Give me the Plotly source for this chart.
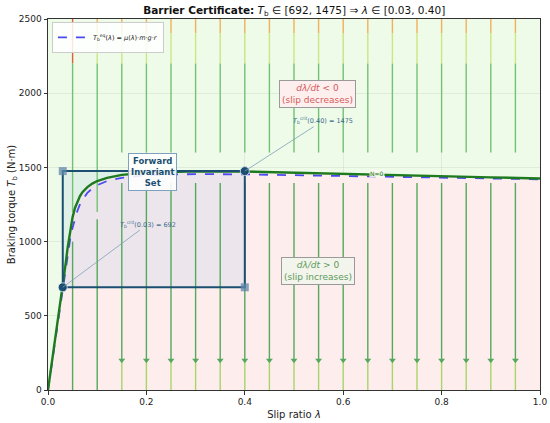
import plotly.graph_objects as go

# values
lam = [0, 0.01, 0.02, 0.03, 0.035, 0.04, 0.045, 0.05, 0.055, 0.06, 0.065, 0.07,
       0.08, 0.09, 0.10, 0.12, 0.15, 0.20, 0.25, 0.30, 0.40, 0.50, 0.60, 0.70,
       0.80, 0.90, 1.0]
T_crit = [0, 230, 460, 692, 830, 960, 1075, 1165, 1228, 1273, 1307, 1333,
          1367, 1391, 1408, 1430, 1450, 1464, 1470, 1473, 1472, 1465, 1457, 1449,
          1441, 1433, 1425]
T_eq = [0, 225, 450, 680, 805, 915, 1015, 1095, 1160, 1210, 1250, 1282,
        1328, 1358, 1380, 1408, 1430, 1447, 1452, 1455, 1453, 1448, 1443, 1437,
        1431, 1426, 1420]

# barrier box
lam_lo, lam_hi = 0.03, 0.40
T_lo, T_hi = 692, 1475

# streamlines (vertical) of the phase portrait
stream_x = [0.05, 0.10, 0.15, 0.20, 0.25, 0.30, 0.35, 0.40, 0.45, 0.50,
            0.55, 0.60, 0.65, 0.70, 0.75, 0.80, 0.85, 0.90, 0.95]
upper_end = [1200, 1200, 1600, 1600, 1600, 1600, 1600, 1600, 1600, 1600,
             1600, 1600, 1600, 1600, 1600, 1600, 1600, 1600, 1600]
lower_start = [1000, 1150, 1395, 1395, 1395, 1395, 1395, 1395, 1395, 1395,
               1395, 1395, 1395, 1395, 1395, 1395, 1395, 1395, 1395]
has_arrow = [False, False] + [True] * 17
T_top, T_orange, T_yellow, T_arrow = 2500, 2405, 2200, 200

fig = go.Figure()

# region below the N=0 curve (slip increases)
fig.add_trace(go.Scatter(x=lam, y=T_crit, mode="lines", fill="tozeroy",
                         fillcolor="#fdeeed", line=dict(width=0),
                         showlegend=False, hoverinfo="skip"))

# forward invariant set fill
fig.add_trace(go.Scatter(x=[lam_lo, lam_hi, lam_hi, lam_lo, lam_lo],
                         y=[T_lo, T_lo, T_hi, T_hi, T_lo],
                         mode="lines", fill="toself",
                         fillcolor="rgba(150,190,230,0.16)",
                         line=dict(width=0), showlegend=False, hoverinfo="skip"))


def seg(xs, y0s, y1s):
    x, y = [], []
    for a, b, c in zip(xs, y0s, y1s):
        x += [a, a, None]
        y += [b, c, None]
    return x, y


def add_seg(xs, y0s, y1s, color):
    x, y = seg(xs, y0s, y1s)
    fig.add_trace(go.Scatter(x=x, y=y, mode="lines",
                             line=dict(color=color, width=1.4),
                             showlegend=False, hoverinfo="skip"))


n = len(stream_x)
# upper streamlines
add_seg(stream_x[:1], [T_top], [T_yellow], "#e0603a")
add_seg(stream_x[1:], [T_top] * (n - 1), [T_orange] * (n - 1), "#f2b05a")
add_seg(stream_x[1:], [T_orange] * (n - 1), [T_yellow] * (n - 1), "#cbe683")
add_seg(stream_x, [T_yellow] * n, upper_end, "#74c176")

# lower streamlines
lo_end = [T_arrow if a else 0 for a in has_arrow]
add_seg(stream_x, lower_start, lo_end, "#55a85c")
arr_x = [x for x, a in zip(stream_x, has_arrow) if a]
add_seg(arr_x, [T_arrow] * len(arr_x), [0] * len(arr_x), "#a8d46a")
fig.add_trace(go.Scatter(x=arr_x, y=[T_arrow] * len(arr_x), mode="markers",
                         marker=dict(symbol="triangle-down", size=6, color="#55a85c"),
                         showlegend=False, hoverinfo="skip"))

# equilibrium torque
fig.add_trace(go.Scatter(x=lam, y=T_eq, mode="lines",
                         line=dict(color="#4a4af0", width=1.8, dash="dash"),
                         name="<i>T</i><sub>b</sub><sup>eq</sup>(<i>λ</i>) = <i>μ</i>(<i>λ</i>)·<i>m</i>·<i>g</i>·<i>r</i>"))

# N = 0 contour
fig.add_trace(go.Scatter(x=lam, y=T_crit, mode="lines",
                         line=dict(color="#1e7a1e", width=2.4),
                         showlegend=False, hoverinfo="skip"))

# box border
fig.add_trace(go.Scatter(x=[lam_lo, lam_hi, lam_hi, lam_lo, lam_lo],
                         y=[T_lo, T_lo, T_hi, T_hi, T_lo], mode="lines",
                         line=dict(color="#1b4f72", width=2),
                         showlegend=False, hoverinfo="skip"))
fig.add_trace(go.Scatter(x=[lam_lo, lam_hi], y=[T_hi, T_lo], mode="markers",
                         marker=dict(symbol="square", size=8, color="rgba(95,135,170,0.75)"),
                         showlegend=False, hoverinfo="skip"))
fig.add_trace(go.Scatter(x=[lam_lo, lam_hi], y=[T_lo, T_hi], mode="markers",
                         marker=dict(symbol="circle", size=9, color="#1b4f72",
                                     line=dict(color="#dfe8f0", width=0.8)),
                         showlegend=False, hoverinfo="skip"))

F = "DejaVu Sans"
annots = [
    dict(x=0.213, y=1469, text="<b>Forward<br>Invariant<br>Set</b>", showarrow=False,
         font=dict(family=F, size=8.5, color="#1b4f72"), bgcolor="rgba(255,255,255,0.88)",
         bordercolor="#7fa0bf", borderwidth=1, borderpad=2),
    dict(x=lam_lo, y=T_lo, ax=0.203, ay=1118, axref="x", ayref="y",
         text="<i>T</i><sub>b</sub><sup>crit</sup>(0.03) = 692", showarrow=True,
         arrowhead=0, arrowwidth=0.8, arrowcolor="#7f9fb8",
         font=dict(family=F, size=6.5, color="#3f6a8e")),
    dict(x=lam_hi, y=T_hi, ax=0.559, ay=1815, axref="x", ayref="y",
         text="<i>T</i><sub>b</sub><sup>crit</sup>(0.40) = 1475", showarrow=True,
         arrowhead=0, arrowwidth=0.8, arrowcolor="#7f9fb8",
         font=dict(family=F, size=6.5, color="#3f6a8e")),
    dict(x=0.548, y=1995, text="<i>dλ/dt</i> &lt; 0<br>(slip decreases)", showarrow=False,
         font=dict(family=F, size=9, color="#d65a5a"), bgcolor="#fcefee",
         bordercolor="#9a9a9a", borderwidth=1, borderpad=2),
    dict(x=0.549, y=802, text="<i>dλ/dt</i> &gt; 0<br>(slip increases)", showarrow=False,
         font=dict(family=F, size=9, color="#5b9a5b"), bgcolor="#f3f4ec",
         bordercolor="#9a9a9a", borderwidth=1, borderpad=2),
    dict(x=0.668, y=1456, text="N=0", showarrow=False,
         font=dict(family=F, size=6, color="#1e7a1e"), bgcolor="rgba(248,248,238,0.9)",
         borderpad=0),
]

fig.update_layout(
    width=550, height=423,
    margin=dict(l=48, r=10, t=19, b=33),
    paper_bgcolor="white", plot_bgcolor="#edfbe8",
    font=dict(family=F, size=9, color="#222"),
    title=dict(text="<b>Barrier Certificate:</b> <i>T</i><sub>b</sub> ∈ [692, 1475] ⇒ <i>λ</i> ∈ [0.03, 0.40]",
               x=0.535, xanchor="center", y=0.976, yanchor="middle",
               font=dict(family=F, size=10.5, color="#111")),
    showlegend=True,
    legend=dict(x=0.008, y=0.992, xanchor="left", yanchor="top",
                bgcolor="rgba(255,255,255,0.85)", bordercolor="#cccccc", borderwidth=1,
                font=dict(family=F, size=6.5)),
    annotations=annots,
)
fig.update_xaxes(range=[0, 1], tickvals=[0, 0.2, 0.4, 0.6, 0.8, 1.0],
                 ticktext=["0.0", "0.2", "0.4", "0.6", "0.8", "1.0"],
                 showline=True, mirror=True, linecolor="#333", linewidth=1,
                 ticks="outside", ticklen=3.5, tickcolor="#333", automargin=False,
                 showgrid=True, gridcolor="rgba(0,0,0,0.06)", zeroline=False,
                 title=dict(text="Slip ratio <i>λ</i>", font=dict(size=10), standoff=4))
fig.update_yaxes(range=[0, 2500], tickvals=[0, 500, 1000, 1500, 2000, 2500],
                 showline=True, mirror=True, linecolor="#333", linewidth=1,
                 ticks="outside", ticklen=3.5, tickcolor="#333", automargin=False,
                 showgrid=True, gridcolor="rgba(0,0,0,0.06)", zeroline=False,
                 title=dict(text="Braking torque <i>T</i><sub>b</sub> (N·m)", font=dict(size=10), standoff=1))

# the page's default body margin would shift the figure by 8px
fig.write_html("out.html", config={"displayModeBar": False},
               post_script="document.body.style.margin='0';")
